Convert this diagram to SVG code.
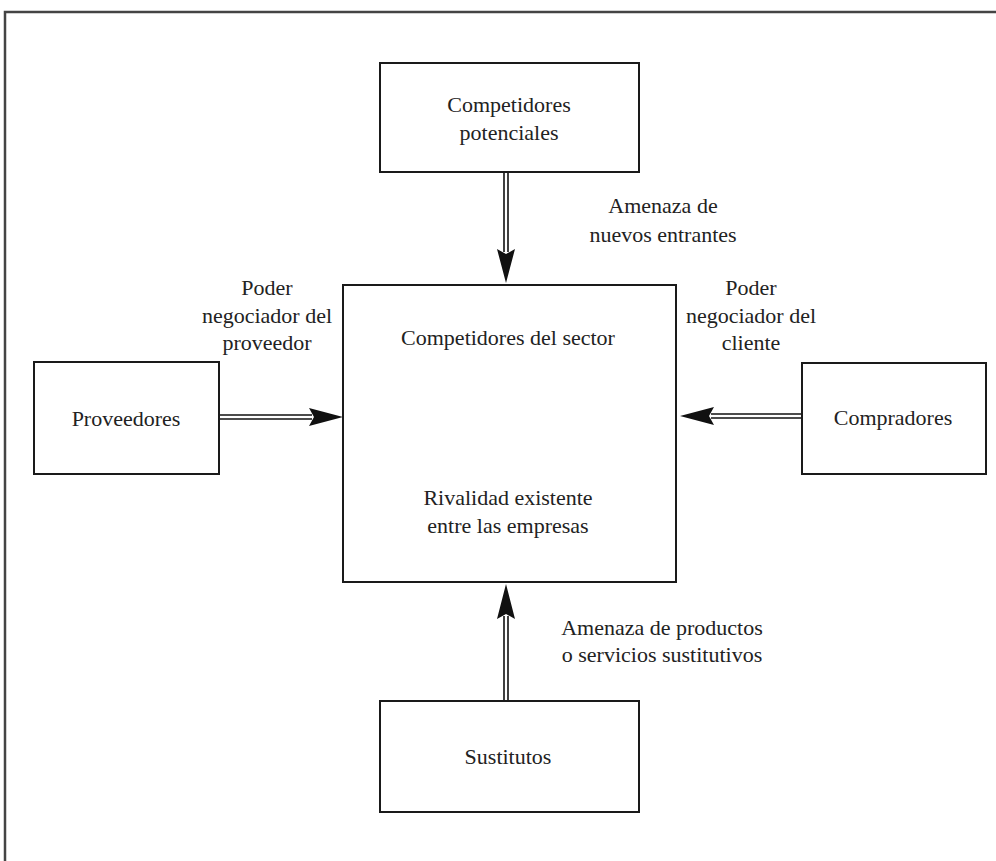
<svg xmlns="http://www.w3.org/2000/svg" width="996" height="861" viewBox="0 0 996 861">
<style>
.box{fill:#fff;stroke:#1a1a1a;stroke-width:2}
.t{font-size:22px;fill:#222;text-anchor:middle}
.sh{stroke:#111;stroke-width:1.6;fill:none}
.hd{fill:#111;stroke:none}
</style>
<rect width="996" height="861" fill="#fff"/>
<path d="M5,861 V12 H996" fill="none" stroke="#444" stroke-width="2.5"/>

<g id="connectors">
  <g id="c-top">
    <line class="sh" x1="504" y1="172" x2="504" y2="252"/>
    <line class="sh" x1="508" y1="172" x2="508" y2="252"/>
    <path class="hd" d="M497,249 L506,254 L515,249 L506,283 Z"/>
  </g>
  <g id="c-bottom">
    <line class="sh" x1="504" y1="701" x2="504" y2="616"/>
    <line class="sh" x1="508" y1="701" x2="508" y2="616"/>
    <path class="hd" d="M497,619 L506,614 L515,619 L506,584 Z"/>
  </g>
  <g id="c-left">
    <line class="sh" x1="219" y1="415" x2="312" y2="415"/>
    <line class="sh" x1="219" y1="419" x2="312" y2="419"/>
    <path class="hd" d="M309,408 L314,417 L309,426 L343,417 Z"/>
  </g>
  <g id="c-right">
    <line class="sh" x1="802" y1="414" x2="711" y2="414"/>
    <line class="sh" x1="802" y1="418" x2="711" y2="418"/>
    <path class="hd" d="M714,407 L709,416 L714,425 L680,416 Z"/>
  </g>
  <g id="c-inner-down">
    <line class="sh" x1="373" y1="378" x2="373" y2="464"/>
    <line class="sh" x1="377" y1="378" x2="377" y2="464"/>
    <path class="hd" d="M366,461 L375,466 L384,461 L375,495 Z"/>
  </g>
  <g id="c-inner-up">
    <line class="sh" x1="647" y1="497" x2="647" y2="411"/>
    <line class="sh" x1="651" y1="497" x2="651" y2="411"/>
    <path class="hd" d="M640,414 L649,409 L658,414 L649,379 Z"/>
  </g>
</g>

<g font-family="'Liberation Serif', 'Times New Roman', Times, serif">
<g id="competidores-potenciales">
  <rect class="box" x="380" y="63" width="259" height="109"/>
  <text class="t" x="509" y="112">Competidores</text>
  <text class="t" x="509" y="140">potenciales</text>
</g>

<g id="competidores-sector">
  <rect class="box" x="343" y="285" width="333" height="297" fill="none"/>
  <text class="t" x="508" y="345">Competidores del sector</text>
  <text class="t" x="508" y="505">Rivalidad existente</text>
  <text class="t" x="508" y="533">entre las empresas</text>
</g>

<g id="proveedores">
  <rect class="box" x="34" y="362" width="185" height="112"/>
  <text class="t" x="126" y="426">Proveedores</text>
</g>

<g id="compradores">
  <rect class="box" x="802" y="363" width="184" height="111"/>
  <text class="t" x="893" y="425">Compradores</text>
</g>

<g id="sustitutos">
  <rect class="box" x="380" y="701" width="259" height="111"/>
  <text class="t" x="508" y="764">Sustitutos</text>
</g>

<g id="labels">
  <text class="t" x="663" y="213">Amenaza de</text>
  <text class="t" x="663" y="242">nuevos entrantes</text>
  <text class="t" x="267" y="295">Poder</text>
  <text class="t" x="267" y="323">negociador del</text>
  <text class="t" x="267" y="350">proveedor</text>
  <text class="t" x="751" y="295">Poder</text>
  <text class="t" x="751" y="323">negociador del</text>
  <text class="t" x="751" y="350">cliente</text>
  <text class="t" x="662" y="635">Amenaza de productos</text>
  <text class="t" x="662" y="662">o servicios sustitutivos</text>
</g>
</g>
</svg>
